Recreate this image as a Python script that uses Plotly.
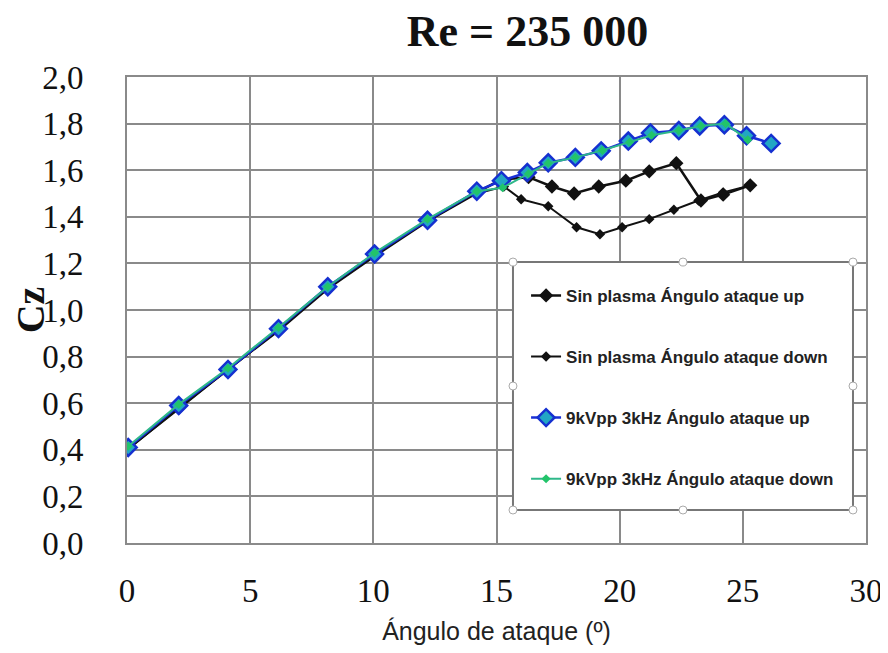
import plotly.graph_objects as go

# --- data ---
x_sp_up = [0.0, 2.1, 4.1, 6.15, 8.15, 10.05, 12.2, 14.2, 15.2, 16.3, 17.25, 18.15, 19.15, 20.25, 21.2, 22.3, 23.3, 24.2, 25.3]
cz_sp_up = [0.40, 0.58, 0.745, 0.915, 1.095, 1.235, 1.385, 1.505, 1.56, 1.57, 1.53, 1.50, 1.53, 1.555, 1.595, 1.63, 1.47, 1.495, 1.535]

x_sp_down = [25.3, 24.2, 23.2, 22.2, 21.2, 20.1, 19.2, 18.25, 17.1, 16.0, 15.3, 14.2, 12.2, 10.05, 8.15, 6.15, 4.1, 2.1, 0.0]
cz_sp_down = [1.535, 1.505, 1.47, 1.43, 1.39, 1.355, 1.325, 1.355, 1.445, 1.475, 1.53, 1.50, 1.38, 1.23, 1.09, 0.91, 0.745, 0.575, 0.40]

x_pl_up = [0.05, 2.1, 4.1, 6.15, 8.15, 10.05, 12.2, 14.2, 15.2, 16.25, 17.1, 18.2, 19.25, 20.35, 21.25, 22.4, 23.25, 24.25, 25.15, 26.15]
cz_pl_up = [0.41, 0.59, 0.745, 0.92, 1.10, 1.24, 1.385, 1.51, 1.555, 1.59, 1.632, 1.655, 1.683, 1.725, 1.76, 1.77, 1.79, 1.795, 1.748, 1.715]

x_pl_down = [25.2, 24.3, 23.3, 22.4, 21.3, 20.4, 19.3, 18.2, 17.1, 16.3, 15.25, 14.2, 12.2, 10.05, 8.15, 6.15, 4.1, 2.1, 0.05]
cz_pl_down = [1.73, 1.80, 1.79, 1.77, 1.75, 1.72, 1.685, 1.655, 1.63, 1.585, 1.525, 1.51, 1.39, 1.245, 1.10, 0.925, 0.75, 0.595, 0.415]

names = ["Sin plasma Ángulo ataque up", "Sin plasma Ángulo ataque down",
         "9kVpp 3kHz Ángulo ataque up", "9kVpp 3kHz Ángulo ataque down"]

x_ticks = [0, 5, 10, 15, 20, 25, 30]
y_ticks = [0.0, 0.2, 0.4, 0.6, 0.8, 1.0, 1.2, 1.4, 1.6, 1.8, 2.0]
y_tick_text = ["0,0", "0,2", "0,4", "0,6", "0,8", "1,0", "1,2", "1,4", "1,6", "1,8", "2,0"]

fig = go.Figure()
fig.add_trace(go.Scatter(x=x_sp_up, y=cz_sp_up, name=names[0], mode="lines+markers",
                         line=dict(color="#111111", width=2.5),
                         marker=dict(symbol="diamond", size=11, color="#111111"),
                         legendgroup="a"))
fig.add_trace(go.Scatter(x=x_sp_down, y=cz_sp_down, name=names[1], mode="lines+markers",
                         line=dict(color="#111111", width=2),
                         marker=dict(symbol="diamond", size=8, color="#111111"),
                         legendgroup="b"))
fig.add_trace(go.Scatter(x=x_pl_up, y=cz_pl_up, name=names[2], mode="lines+markers",
                         line=dict(color="#1a2fd6", width=2.5),
                         marker=dict(symbol="diamond", size=13, color="#22a6c4",
                                     line=dict(color="#1530d0", width=2.5)),
                         legendgroup="c"))
fig.add_trace(go.Scatter(x=x_pl_down, y=cz_pl_down, name=names[3], mode="lines+markers",
                         line=dict(color="#2fb88a", width=2),
                         marker=dict(symbol="diamond", size=7, color="#22c46a"),
                         legendgroup="d"))

# legend frame (drawn as a shape) and its selection handles, paper coordinates
box_x0, box_x1, box_y0, box_y1 = 0.5223, 0.9824, 0.0708, 0.603
shapes = [dict(type="rect", xref="paper", yref="paper", x0=box_x0, x1=box_x1, y0=box_y0, y1=box_y1,
               fillcolor="white", line=dict(color="#777777", width=2), layer="above")]
mx, my = (box_x0 + box_x1) / 2, (box_y0 + box_y1) / 2
handles = [(box_x0, box_y1), (mx, box_y1), (box_x1, box_y1),
           (box_x0, my), (box_x1, my),
           (box_x0, box_y0), (mx, box_y0), (box_x1, box_y0)]
for hx, hy in handles:
    shapes.append(dict(type="circle", xref="paper", yref="paper",
                       xsizemode="pixel", ysizemode="pixel",
                       xanchor=hx, yanchor=hy, x0=-4, x1=4, y0=-4, y1=4,
                       line=dict(color="#aaaaaa", width=1), fillcolor="white",
                       layer="above"))

fig.update_layout(
    width=888, height=653,
    margin=dict(l=119, r=30, t=69, b=118),
    paper_bgcolor="white", plot_bgcolor="white",
    title=dict(text="<b>Re = 235 000</b>", x=0.585, xanchor="center", y=0.966, yanchor="middle",
               font=dict(family="Liberation Serif", size=44, color="#111111")),
    xaxis=dict(range=[0, 30], tickvals=x_ticks, showgrid=True, gridcolor="#8a8a8a", gridwidth=2,
               showline=True, linecolor="#8a8a8a", linewidth=2, mirror=True, zeroline=False,
               ticks="", ticklabelstandoff=17, automargin=False,
               tickfont=dict(family="Liberation Serif", size=33, color="#111111"),
               title=dict(text="Ángulo de ataque (º)", standoff=15,
                          font=dict(family="Liberation Sans", size=25, color="#222222"))),
    yaxis=dict(range=[0, 2.0], tickvals=y_ticks, ticktext=y_tick_text, showgrid=True,
               gridcolor="#8a8a8a", gridwidth=2, showline=True, linecolor="#8a8a8a", linewidth=2,
               mirror=True, zeroline=False, ticks="", ticklabelstandoff=35, automargin=False,
               tickfont=dict(family="Liberation Serif", size=33, color="#111111"),
               title=dict(text="<b>Cz</b>", standoff=3,
                          font=dict(family="Liberation Serif", size=40, color="#111111"))),
    legend=dict(x=0.540, y=0.569, xanchor="left", yanchor="top",
                bgcolor="rgba(0,0,0,0)", borderwidth=0,
                font=dict(family="Liberation Sans", size=17, color="#222222", weight="bold"),
                tracegroupgap=36, itemwidth=30),
    shapes=shapes,
)

fig.write_html("out.html")
